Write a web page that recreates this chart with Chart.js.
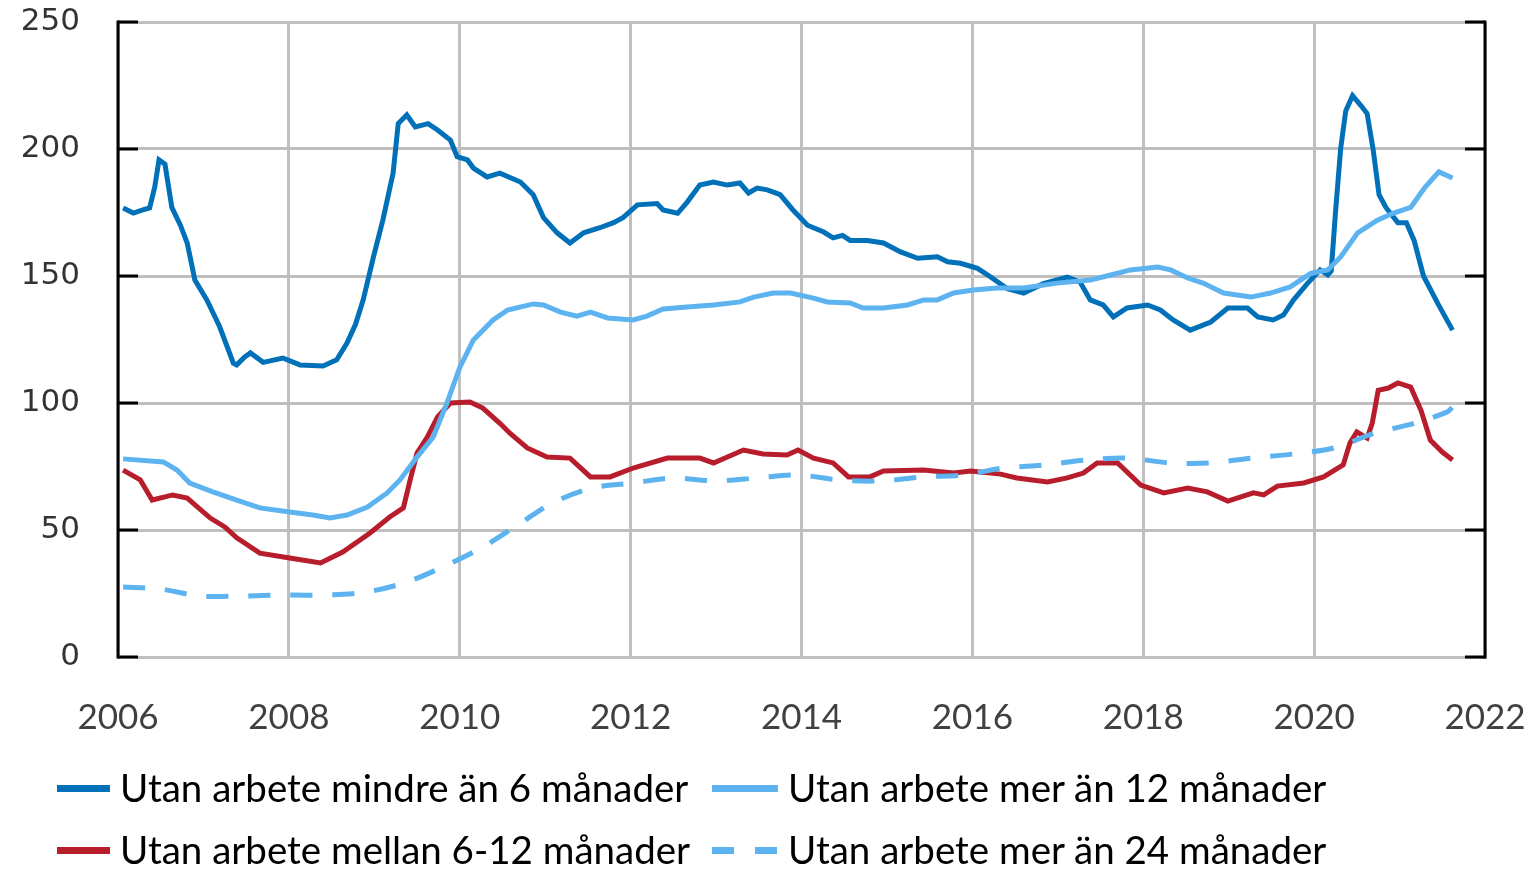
<!DOCTYPE html>
<html><head><meta charset="utf-8">
<script src="https://cdn.jsdelivr.net/npm/chart.js@4.4.1/dist/chart.umd.min.js"></script>
<style>
html,body{margin:0;padding:0;background:#fff;}
#wrap{position:relative;width:1534px;height:869px;overflow:hidden;background:#fff;}
#c{position:absolute;left:0;top:0;}
.lgtext{position:absolute;font-family:Lato,"Open Sans",sans-serif;font-size:38.5px;color:#000;height:44px;line-height:44px;white-space:nowrap;}
.sw{position:absolute;height:7px;}
</style></head><body>
<div id="wrap"><canvas id="c" width="1534" height="869"></canvas><div id="legend"></div></div>
<script>
// ---- data (decimal years, values) ----
const shortYears = [2006.06,2006.18,2006.29,2006.37,2006.43,2006.48,2006.55,2006.63,2006.73,2006.81,2006.90,2007.04,2007.19,2007.35,2007.39,2007.48,2007.55,2007.70,2007.93,2008.13,2008.40,2008.56,2008.68,2008.78,2008.87,2008.99,2009.10,2009.22,2009.28,2009.38,2009.48,2009.63,2009.74,2009.89,2009.97,2010.09,2010.16,2010.32,2010.47,2010.71,2010.86,2010.98,2011.14,2011.29,2011.45,2011.64,2011.80,2011.91,2012.08,2012.31,2012.38,2012.55,2012.66,2012.81,2012.97,2013.13,2013.28,2013.38,2013.48,2013.60,2013.75,2013.90,2014.07,2014.26,2014.37,2014.48,2014.57,2014.77,2014.96,2015.16,2015.36,2015.59,2015.71,2015.86,2016.06,2016.21,2016.41,2016.60,2016.83,2017.11,2017.26,2017.38,2017.53,2017.65,2017.81,2018.05,2018.20,2018.35,2018.55,2018.79,2018.99,2019.22,2019.34,2019.52,2019.64,2019.76,2019.92,2020.07,2020.16,2020.20,2020.25,2020.31,2020.37,2020.45,2020.55,2020.62,2020.69,2020.76,2020.84,2020.98,2021.08,2021.17,2021.28,2021.45,2021.62];
const shortVals = [176.8,174.8,176,176.8,185,195.7,194,177,170,163,148.4,140.6,130,115.7,115,118,119.7,116,117.7,115,114.6,117,123.6,131,140.6,157.5,172,190.5,210,213.4,208.7,210,207.5,203.5,197,195.7,192.5,189,190.5,187,182,173,167,163,167,169,171,173,178,178.5,176,174.7,179,185.8,187,185.8,186.6,182.7,184.6,183.9,182,176,170,167.3,165,166,164,164,163,159.5,157,157.6,155.6,155,153,149.7,145,143.3,147,149.6,147.6,140.6,138.6,133.9,137.4,138.6,136.6,132.7,128.7,131.9,137.4,137.4,133.9,132.7,134.6,140.6,147,152.4,150.4,152,175,200,215,221,217,214,200,182,177,171,171,164,150,139,128.7];

const longYears = [2006.06,2006.53,2006.69,2006.84,2007.11,2007.39,2007.66,2008.01,2008.28,2008.48,2008.68,2008.92,2009.15,2009.30,2009.50,2009.69,2009.85,2010.00,2010.16,2010.39,2010.56,2010.86,2010.98,2011.18,2011.37,2011.53,2011.73,2012.03,2012.19,2012.38,2012.66,2012.97,2013.28,2013.44,2013.67,2013.87,2014.14,2014.30,2014.57,2014.72,2014.96,2015.24,2015.43,2015.59,2015.78,2016.01,2016.29,2016.60,2016.99,2017.38,2017.62,2017.85,2018.17,2018.32,2018.52,2018.70,2018.94,2019.26,2019.49,2019.72,2019.96,2020.16,2020.31,2020.51,2020.74,2020.93,2021.13,2021.25,2021.30,2021.46,2021.62];
const longVals = [78,76.8,73.6,68.5,65,61.8,58.7,57.1,55.9,54.7,55.9,59,64.6,69.7,78.7,86.6,100,114,124.8,132.7,136.6,139,138.6,135.8,134.2,135.8,133.5,132.7,134.2,137,137.8,138.6,139.8,141.7,143.3,143.3,141.3,139.8,139.4,137.4,137.4,138.6,140.6,140.6,143.3,144.5,145.3,145.3,147.2,148.4,150.4,152.4,153.5,152.4,149.2,147.2,143.3,141.7,143.3,145.7,151,152.4,157.5,167,172,174.8,177,182.7,185,191,188.6];

const midYears = [2006.06,2006.26,2006.40,2006.64,2006.81,2007.08,2007.25,2007.39,2007.66,2008.01,2008.37,2008.63,2008.95,2009.18,2009.34,2009.42,2009.50,2009.62,2009.74,2009.89,2010.12,2010.27,2010.47,2010.59,2010.79,2011.02,2011.29,2011.53,2011.76,2012.03,2012.43,2012.81,2012.97,2013.32,2013.55,2013.83,2013.96,2014.14,2014.37,2014.55,2014.80,2014.96,2015.43,2015.78,2015.98,2016.33,2016.52,2016.88,2017.11,2017.30,2017.46,2017.70,2017.97,2018.24,2018.52,2018.75,2018.99,2019.29,2019.41,2019.57,2019.88,2020.11,2020.34,2020.42,2020.50,2020.62,2020.68,2020.75,2020.87,2020.98,2021.13,2021.25,2021.36,2021.50,2021.62];
const midVals = [73.6,69.7,61.8,63.8,62.6,54.7,51.2,46.9,40.9,39,37,41.3,48.8,55.1,58.7,69.7,80.3,86.6,94.5,100,100.4,98,92,88,82.3,78.7,78.3,70.9,70.9,74.4,78.3,78.3,76.4,81.5,79.9,79.5,81.5,78.3,76.4,70.9,70.9,73.2,73.6,72.4,73.2,72,70.5,68.9,70.5,72.4,76.4,76.4,67.7,64.6,66.5,65,61.4,64.6,63.8,67.3,68.5,70.9,75.6,84.3,88.6,86.2,92,105,105.9,107.9,106.3,97.2,85.4,80.7,77.6];

const vlongYears = [2006.06,2006.49,2006.96,2007.46,2007.96,2008.45,2008.91,2009.38,2009.85,2010.27,2010.68,2011.08,2011.55,2012.03,2012.50,2012.99,2013.48,2013.95,2014.43,2014.92,2015.41,2015.90,2016.36,2016.85,2017.35,2017.81,2018.32,2018.79,2019.26,2019.75,2020.23,2020.70,2021.17,2021.56,2021.62];
const vlongVals = [27.6,26.8,24,24,24.4,24.4,25.6,29.5,36.2,43.3,52,60.6,66.5,68.5,70.5,69.3,70.5,71.7,69.7,69.3,70.9,71.7,74.4,75.6,77.6,78.3,76.4,76.4,78.3,79.9,82.3,88,92,96.5,98.4];

const seriesNames = ["Utan arbete mindre än 6 månader","Utan arbete mer än 12 månader","Utan arbete mellan 6-12 månader","Utan arbete mer än 24 månader"];
const seriesColors = ["#0070B8","#5DB3F0","#B81D2C","#5DB3F0"];
const xTicks = [2006,2008,2010,2012,2014,2016,2018,2020,2022];
const yTicks = [0,50,100,150,200,250];

const pts = (xs, ys) => xs.map((x,i)=>({x, y: ys[i]}));

const axisPlugin = {
  id:'axisDecor',
  beforeDatasetsDraw(chart){
    const {ctx, chartArea:a, scales:{y}} = chart;
    ctx.save();
    ctx.strokeStyle='#000'; ctx.lineWidth=3; ctx.lineCap='butt';
    yTicks.forEach(v=>{
      const py = Math.round(y.getPixelForValue(v));
      ctx.beginPath();
      ctx.moveTo(a.left, py); ctx.lineTo(a.left+20, py);
      ctx.moveTo(a.right-20, py); ctx.lineTo(a.right, py);
      ctx.stroke();
    });
    ctx.beginPath();
    ctx.moveTo(a.left, a.top-1.5); ctx.lineTo(a.left, a.bottom+1.5);
    ctx.moveTo(a.right, a.top-1.5); ctx.lineTo(a.right, a.bottom+1.5);
    ctx.stroke();
    ctx.restore();
  }
};

const ds = (label, data, color, dash) => ({
  label, data, borderColor: color, backgroundColor: color, borderWidth: 5,
  pointRadius: 0, tension: dash ? 0.3 : 0, borderDash: dash || [], fill:false, borderCapStyle:'butt'
});

new Chart(document.getElementById('c'), {
  type:'line',
  data:{ datasets:[
    ds(seriesNames[3], pts(vlongYears, vlongVals), seriesColors[3], [22,20]),
    ds(seriesNames[1], pts(longYears, longVals), seriesColors[1]),
    ds(seriesNames[2], pts(midYears, midVals), seriesColors[2]),
    ds(seriesNames[0], pts(shortYears, shortVals), seriesColors[0])
  ]},
  options:{
    responsive:false, animation:false, devicePixelRatio:1,
    layout:{padding:{top:22,right:49,left:0,bottom:0}, autoPadding:false},
    plugins:{legend:{display:false}, tooltip:{enabled:false}},
    scales:{
      x:{ type:'linear', min:2006, max:2022,
        afterFit(s){ s.height = 212; s.paddingLeft = 0; s.paddingRight = 0; },
        afterBuildTicks(s){ s.ticks = xTicks.map(v=>({value:v})); },
        ticks:{ callback:v=>String(v), color:'#404040', padding:40, maxRotation:0, autoSkip:false,
          font:{family:'Lato, "Open Sans", sans-serif', size:35} },
        grid:{ color:'#BFBFBF', lineWidth:3, drawTicks:false },
        border:{ display:true, color:'#BFBFBF', width:3 }
      },
      y:{ min:0, max:250,
        afterFit(s){ s.width = 118; s.paddingTop = 0; s.paddingBottom = 0; },
        afterBuildTicks(s){ s.ticks = yTicks.map(v=>({value:v})); },
        ticks:{ color:'#333', padding:38, font:{family:'"DejaVu Sans", sans-serif', size:31} },
        grid:{ color:'#BFBFBF', lineWidth:3, drawTicks:false },
        border:{ display:false }
      }
    }
  },
  plugins:[axisPlugin]
});

// ---- legend (HTML) ----
const legendPos = [
  {sx:57, tx:120, cy:788},
  {sx:712, tx:788, cy:788},
  {sx:57, tx:120, cy:850},
  {sx:712, tx:788, cy:850}
];
const lg = document.getElementById('legend');
seriesNames.forEach((name,i)=>{
  const p = legendPos[i];
  const sw = document.createElement('div');
  sw.className='sw';
  sw.style.left = p.sx+'px'; sw.style.top = (p.cy-3)+'px';
  const w = p.tx - p.sx - 10;
  sw.style.width = w+'px';
  if(i===3){
    sw.style.background = `repeating-linear-gradient(to right, ${seriesColors[i]} 0 22px, transparent 22px 43px)`;
  } else {
    sw.style.background = seriesColors[i];
  }
  lg.appendChild(sw);
  const t = document.createElement('div');
  t.className='lgtext';
  t.style.left = p.tx+'px'; t.style.top = (p.cy-23)+'px';
  t.textContent = name;
  lg.appendChild(t);
});
</script>
</body></html>
